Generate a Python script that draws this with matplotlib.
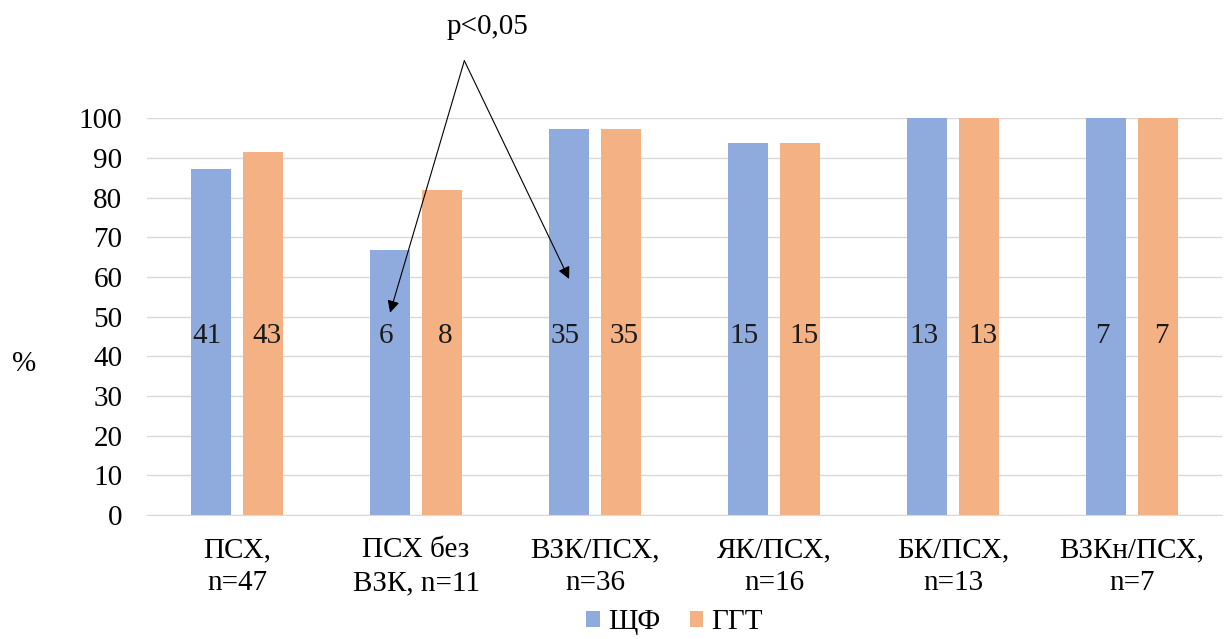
import matplotlib
matplotlib.use("Agg")
import matplotlib.pyplot as plt
import numpy as np

plt.rcParams['font.family'] = ['Liberation Serif', 'DejaVu Serif']

categories = ["ПСХ,\nn=47", "ПСХ без\nВЗК, n=11", "ВЗК/ПСХ,\nn=36",
              "ЯК/ПСХ,\nn=16", "БК/ПСХ,\nn=13", "ВЗКн/ПСХ,\nn=7"]
shf = [87.2, 66.7, 97.2, 93.8, 100, 100]
ggt = [91.5, 81.8, 97.2, 93.8, 100, 100]
shf_n = [41, 6, 35, 15, 13, 7]
ggt_n = [43, 8, 35, 15, 13, 7]

blue = '#8FAADC'
orange = '#F4B183'
fs = 21

fig = plt.figure(figsize=(12.29, 6.39), dpi=100)
ax = fig.add_axes([0.12, 0.194, 0.874, 0.621])

x = np.arange(len(categories))
w = 0.22
off = 0.145
ax.bar(x - off, shf, w, color=blue, label='ЩФ', zorder=2)
ax.bar(x + off, ggt, w, color=orange, label='ГГТ', zorder=2)

# numbers written inside the bars
for i in range(len(x)):
    ax.text(x[i] - off - 0.02, 45, str(shf_n[i]), ha='center', va='center',
            fontsize=fs, color='#1a1a1a', zorder=3)
    ax.text(x[i] + off + 0.02, 45, str(ggt_n[i]), ha='center', va='center',
            fontsize=fs, color='#1a1a1a', zorder=3)

ax.set_xlim(-0.5, 5.5)
ax.set_ylim(0, 100)
ax.set_yticks(range(0, 101, 10))
ax.set_xticks(x)
ax.set_xticklabels(categories, fontsize=fs, linespacing=1.35)
ax.tick_params(axis='y', labelsize=fs, length=0, pad=18)
ax.tick_params(axis='x', length=0, pad=16)
ax.grid(axis='y', color='#d9d9d9', linewidth=1, zorder=0)
for s in ['top', 'right', 'left']:
    ax.spines[s].set_visible(False)
ax.spines['bottom'].set_color('#d9d9d9')

ax.text(-0.115, 0.38, '%', fontsize=fs, ha='center', va='center',
        transform=ax.transAxes, clip_on=False)

# p<0,05 arrows
start = (1.27, 114.5)
ax.text(1.40, 123, 'p<0,05', ha='center', va='center', fontsize=fs)
ax.annotate('', xy=(1 - off, 51), xytext=start, annotation_clip=False,
            arrowprops=dict(arrowstyle='-|>', color='black', lw=0.8,
                            mutation_scale=18, shrinkA=0, shrinkB=0))
ax.annotate('', xy=(2 - off, 59.5), xytext=start, annotation_clip=False,
            arrowprops=dict(arrowstyle='-|>', color='black', lw=0.8,
                            mutation_scale=18, shrinkA=0, shrinkB=0))

fig.legend(loc='lower center', bbox_to_anchor=(0.549, -0.035), ncol=2,
           frameon=False, fontsize=fs, handlelength=0.45, handleheight=0.45,
           handletextpad=0.3, columnspacing=1.0)

fig.savefig('out.png', dpi=100)
